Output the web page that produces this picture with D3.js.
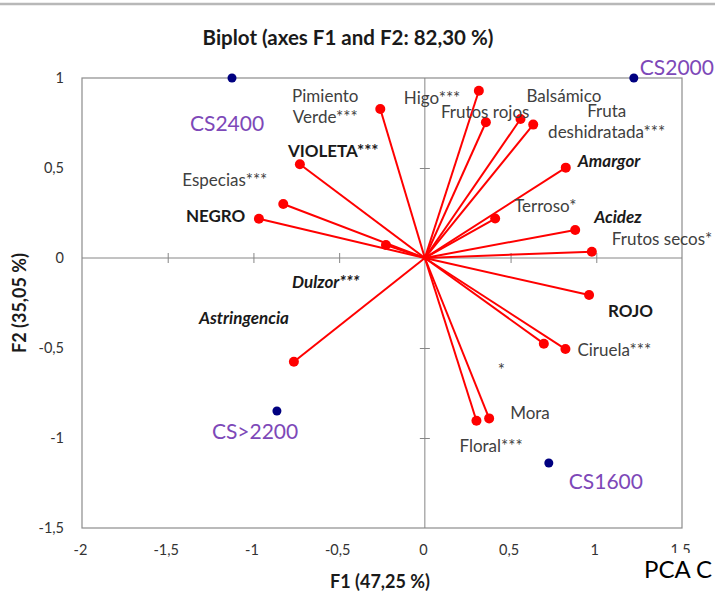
<!DOCTYPE html>
<html>
<head>
<meta charset="utf-8">
<script src="https://cdn.jsdelivr.net/npm/d3@7/dist/d3.min.js"></script>
<style>
  html, body { margin: 0; padding: 0; background: #fff; }
  svg { display: block; font-family: Lato, "Open Sans", sans-serif; }
</style>
</head>
<body>
<svg id="chart" width="715" height="592"></svg>
<script>
// Variable loadings (F1, F2)
const varNames = ["Pimiento\nVerde***", "Higo***", "Frutos rojos", "Balsámico", "Fruta\ndeshidratada***",
  "VIOLETA***", "Especias***", "Amargor", "NEGRO", "Terroso*", "Acidez", "Frutos secos*",
  "Dulzor***", "ROJO", "Ciruela***", "*", "Mora", "Floral***", "Astringencia"];
const varF1 = [-0.26, 0.315, 0.356, 0.558, 0.632, -0.729, -0.826, 0.822, -0.968, 0.410, 0.877, 0.974,
  -0.227, 0.958, 0.820, 0.694, 0.375, 0.301, -0.764];
const varF2 = [0.828, 0.929, 0.754, 0.772, 0.741, 0.521, 0.300, 0.502, 0.218, 0.219, 0.156, 0.035,
  0.072, -0.206, -0.506, -0.476, -0.891, -0.904, -0.576];

// Observation scores (F1, F2)
const obsNames = ["CS2400", "CS2000", "CS>2200", "CS1600"];
const obsF1 = [-1.125, 1.219, -0.863, 0.723];
const obsF2 = [1.0, 1.0, -0.85, -1.139];

const xTicks = [-2, -1.5, -1, -0.5, 0, 0.5, 1, 1.5];
const yTicks = [-1.5, -1, -0.5, 0, 0.5, 1];

const title = "Biplot (axes F1 and F2: 82,30 %)";
const xTitle = "F1 (47,25 %)";
const yTitle = "F2 (35,05 %)";

// Label placement (pixel offsets from each point) and emphasis
const varLabelLayout = {
  "Pimiento\nVerde***": { dx: -55, dy: -14, anchor: "middle" },
  "Higo***": { dx: -75, dy: 6 },
  "Frutos rojos": { dx: -45, dy: -11 },
  "Balsámico": { dx: 6, dy: -24 },
  "Fruta\ndeshidratada***": { dx: 73.5, dy: -15, anchor: "middle" },
  "VIOLETA***": { dx: -12, dy: -14, weight: "bold" },
  "Especias***": { dx: -101, dy: -25 },
  "Amargor": { dx: 12, dy: -8, weight: "bold", style: "italic" },
  "NEGRO": { dx: -73, dy: -4, weight: "bold" },
  "Terroso*": { dx: 19, dy: -14 },
  "Acidez": { dx: 19, dy: -14, weight: "bold", style: "italic" },
  "Frutos secos*": { dx: 20, dy: -14 },
  "Dulzor***": { dx: -94, dy: 36, weight: "bold", style: "italic" },
  "ROJO": { dx: 19, dy: 15, weight: "bold" },
  "Ciruela***": { dx: 12, dy: 0 },
  "*": { dx: -46, dy: 25 },
  "Mora": { dx: 21, dy: -6 },
  "Floral***": { dx: -17, dy: 24 },
  "Astringencia": { dx: -95, dy: -45, weight: "bold", style: "italic" }
};
const obsLabelLayout = {
  "CS2400": { dx: -42, dy: 44 },
  "CS2000": { dx: 6, dy: -12 },
  "CS>2200": { dx: -65, dy: 19 },
  "CS1600": { dx: 20, dy: 17 }
};

const svg = d3.select("#chart");
const x = d3.scaleLinear().domain([-2, 1.5]).range([82, 682]);
const y = d3.scaleLinear().domain([-1.5, 1]).range([528, 78]);
const fmt = d => String(d).replace(".", ",");

// thin rule along the top edge
svg.append("line").attr("x1", 0).attr("x2", 715).attr("y1", 4).attr("y2", 4)
  .attr("stroke", "#b8b8b8").attr("stroke-width", 2.5);

// title
svg.append("text").attr("x", 348).attr("y", 37).attr("text-anchor", "middle")
  .attr("dominant-baseline", "central")
  .attr("font-size", 20.5).attr("font-weight", "bold").attr("fill", "#1a1a1a").text(title);

// plot frame
svg.append("rect").attr("x", x(-2)).attr("y", y(1))
  .attr("width", x(1.5) - x(-2)).attr("height", y(-1.5) - y(1))
  .attr("fill", "none").attr("stroke", "#8c8c8c").attr("stroke-width", 1.2);

// tick labels
const xAxis = svg.append("g").attr("transform", `translate(-2,${y(-1.5)})`)
  .call(d3.axisBottom(x).tickValues(xTicks).tickFormat(fmt).tickSize(0).tickPadding(17));
const yAxis = svg.append("g").attr("transform", `translate(${x(-2) - 18},0)`)
  .call(d3.axisLeft(y).tickValues(yTicks).tickFormat(fmt).tickSize(0).tickPadding(0));
[xAxis, yAxis].forEach(g => {
  g.select(".domain").remove();
  g.selectAll("text").attr("font-family", "Lato, sans-serif").attr("font-size", 14.5).attr("fill", "#333");
});

// zero lines with crossing tick marks
const zeroX = svg.append("g").attr("transform", `translate(0,${y(0) + 5})`)
  .call(d3.axisBottom(x).tickValues(xTicks.filter(t => t > -2 && t < 1.5 && t !== 0)).tickSize(-10).tickFormat(""));
zeroX.select(".domain").remove();
zeroX.selectAll("line").attr("stroke", "#868686");
const zeroY = svg.append("g").attr("transform", `translate(${x(0) - 5},0)`)
  .call(d3.axisLeft(y).tickValues(yTicks.filter(t => t > -1.5 && t < 1 && t !== 0)).tickSize(-10).tickFormat(""));
zeroY.select(".domain").remove();
zeroY.selectAll("line").attr("stroke", "#868686");
svg.append("line").attr("x1", x(-2)).attr("x2", x(1.5)).attr("y1", y(0)).attr("y2", y(0))
  .attr("stroke", "#868686").attr("stroke-width", 1);
svg.append("line").attr("x1", x(0)).attr("x2", x(0)).attr("y1", y(1)).attr("y2", y(-1.5))
  .attr("stroke", "#868686").attr("stroke-width", 1);

// axis titles
svg.append("text").attr("x", 380).attr("y", 581).attr("text-anchor", "middle")
  .attr("dominant-baseline", "central")
  .attr("font-size", 18).attr("font-weight", "bold").attr("fill", "#1a1a1a").text(xTitle);
svg.append("text").attr("transform", "translate(19,303) rotate(-90)").attr("text-anchor", "middle")
  .attr("dominant-baseline", "central")
  .attr("font-size", 18).attr("font-weight", "bold").attr("fill", "#1a1a1a").text(yTitle);

// variable vectors
const vars = varNames.map((n, i) => ({ name: n, f1: varF1[i], f2: varF2[i] }));
const gv = svg.append("g");
gv.selectAll("line").data(vars).join("line")
  .attr("x1", x(0)).attr("y1", y(0))
  .attr("x2", d => x(d.f1)).attr("y2", d => y(d.f2))
  .attr("stroke", "#ff0000").attr("stroke-width", 2);
gv.selectAll("circle").data(vars).join("circle")
  .attr("cx", d => x(d.f1)).attr("cy", d => y(d.f2)).attr("r", 5)
  .attr("fill", "#ff0000");

// observation points
const obs = obsNames.map((n, i) => ({ name: n, f1: obsF1[i], f2: obsF2[i] }));
svg.append("g").selectAll("circle").data(obs).join("circle")
  .attr("cx", d => x(d.f1)).attr("cy", d => y(d.f2)).attr("r", 4.5)
  .attr("fill", "#000080");

// variable labels
const lineH = 21;
svg.append("g").selectAll("text").data(vars).join("text")
  .each(function (d) {
    const L = varLabelLayout[d.name];
    const t = d3.select(this)
      .attr("x", x(d.f1) + L.dx).attr("y", y(d.f2) + L.dy)
      .attr("text-anchor", L.anchor || "start")
      .attr("dominant-baseline", "central")
      .attr("font-size", 17)
      .attr("font-weight", L.weight || "normal")
      .attr("font-style", L.style || "normal")
      .attr("fill", L.weight ? "#1a1a1a" : "#404040");
    d.name.split("\n").forEach((line, k) => {
      t.append("tspan").attr("x", x(d.f1) + L.dx)
        .attr("y", y(d.f2) + L.dy + k * lineH).text(line);
    });
  });

// observation labels
svg.append("g").selectAll("text").data(obs).join("text")
  .attr("x", d => x(d.f1) + obsLabelLayout[d.name].dx)
  .attr("y", d => y(d.f2) + obsLabelLayout[d.name].dy)
  .attr("dominant-baseline", "central")
  .attr("font-size", 21).attr("fill", "#7d48b8")
  .text(d => d.name);

// overlaid caption in the lower right corner
svg.append("rect").attr("x", 640).attr("y", 553).attr("width", 75).attr("height", 39).attr("fill", "#fff");
svg.append("text").attr("x", 644).attr("y", 578).attr("font-size", 24).attr("fill", "#000").text("PCA C");
</script>
</body>
</html>
